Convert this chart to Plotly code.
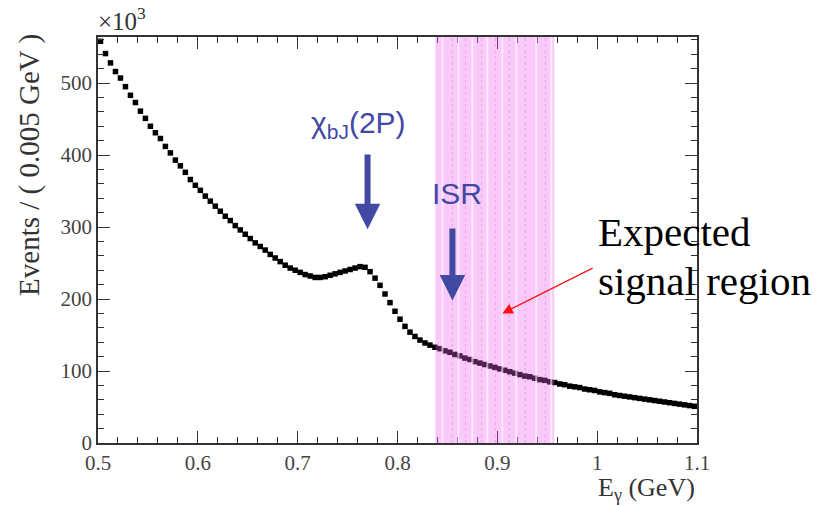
import numpy as np
import plotly.graph_objects as go

# Photon-energy spectrum, 0.005 GeV bins from 0.5 to 1.1 GeV (events in units of 10^3)
bin_lo = 0.5
bin_width = 0.005
events_k = [
    558, 541, 528, 516, 507, 495, 483, 473, 461, 451,
    440, 431, 423, 412, 403, 393, 385, 376, 366, 358,
    351, 343, 336, 329, 322, 315, 309, 302, 296, 290,
    284, 278, 273, 268, 262, 257, 252, 247, 243, 240,
    237, 234, 232, 230, 230, 231, 233, 235, 237, 239,
    241, 243, 245, 244, 238, 229, 219, 207, 195, 183,
    172, 162, 154, 148, 143, 139, 136, 133, 131, 128,
    126, 123, 121, 118, 116, 113, 111, 109, 107, 105,
    103, 101, 99, 97, 95, 93, 92, 90, 88, 87,
    85, 84, 82, 81, 79, 78, 77, 75, 74, 73,
    71, 70, 69, 67, 66, 65, 64, 63, 62, 61,
    60, 59, 58, 57, 56, 55, 54, 53, 52, 51,
]
e_gamma = bin_lo + bin_width * (np.arange(len(events_k)) + 0.5)

# Expected signal window and the stripe pattern inside it
signal_window = [0.838, 0.957]
light_stripes = [0.845, 0.861, 0.875, 0.890, 0.905, 0.919, 0.939, 0.954]
dark_stripes = [0.855, 0.868, 0.884, 0.898, 0.912, 0.928, 0.948]

# Labelled features: (label, x, arrow top, arrow tip)
chi_b = ("χ<sub>bJ</sub>(2P)", 0.770, 403, 297)
isr = ("ISR", 0.855, 300, 198)

x_ticks = [0.5, 0.6, 0.7, 0.8, 0.9, 1.0, 1.1]
x_tick_text = ["0.5", "0.6", "0.7", "0.8", "0.9", "1", "1.1"]
y_ticks = [0, 100, 200, 300, 400, 500]

serif = "Liberation Serif"
sans = "Liberation Sans"
blue = "#4249a3"

fig = go.Figure()

fig.add_trace(go.Scatter(
    x=e_gamma, y=events_k, mode="markers",
    marker=dict(symbol="square", size=5.5, color="black", line=dict(width=0)),
    showlegend=False, hoverinfo="x+y",
))

# Pink signal band drawn above the data, semi-transparent
fig.add_shape(type="rect", xref="x", yref="paper",
              x0=signal_window[0], x1=signal_window[1], y0=0, y1=1,
              fillcolor="#ec5aec", opacity=0.33, line=dict(width=0), layer="above")
for xs in light_stripes:
    fig.add_shape(type="line", xref="x", yref="paper", x0=xs, x1=xs, y0=0, y1=1,
                  line=dict(color="white", width=2), opacity=0.6, layer="above")
for xs in dark_stripes:
    fig.add_shape(type="line", xref="x", yref="paper", x0=xs, x1=xs, y0=0, y1=1,
                  line=dict(color="#c040c0", width=1, dash="dot"), opacity=0.25, layer="above")

# Blue feature arrows with labels
for label, xa, ytop, ytip in (chi_b, isr):
    fig.add_annotation(x=xa, y=ytip, ax=xa, ay=ytop, xref="x", yref="y",
                       axref="x", ayref="y", text="", showarrow=True,
                       arrowhead=2, arrowsize=0.85, arrowwidth=6, arrowcolor=blue)
fig.add_annotation(x=chi_b[1] - 0.009, y=chi_b[2] + 40, xref="x", yref="y",
                   text=chi_b[0], showarrow=False,
                   font=dict(family=sans, size=30, color=blue))
fig.add_annotation(x=isr[1] + 0.005, y=isr[2] + 46, xref="x", yref="y",
                   text=isr[0], showarrow=False,
                   font=dict(family=sans, size=30, color=blue))

# Red pointer to the signal window
fig.add_annotation(x=0.905, y=180, ax=0.997, ay=244, xref="x", yref="y",
                   axref="x", ayref="y", text="", showarrow=True,
                   arrowhead=2, arrowsize=1.6, arrowwidth=1.3, arrowcolor="#ff1010")
fig.add_annotation(x=0.832, y=0.519, xref="paper", yref="paper", xanchor="left",
                   yanchor="middle", text="Expected", showarrow=False,
                   font=dict(family=serif, size=41, color="black"))
fig.add_annotation(x=0.832, y=0.40, xref="paper", yref="paper", xanchor="left",
                   yanchor="middle", text="signal region", showarrow=False,
                   font=dict(family=serif, size=41, color="black"))

# Axis titles and exponent
fig.add_annotation(x=-0.1135, y=0.685, xref="paper", yref="paper", textangle=-90,
                   xanchor="center", yanchor="middle",
                   text="Events / ( 0.005 GeV )", showarrow=False,
                   font=dict(family=serif, size=29, color="#333"))
fig.add_annotation(x=1.0, y=-0.07, xref="paper", yref="paper", xanchor="right",
                   yanchor="top", text="E<sub>γ</sub> (GeV)", showarrow=False,
                   font=dict(family=serif, size=26, color="#333"))
fig.add_annotation(x=-0.003, y=1.0, xref="paper", yref="paper", xanchor="left",
                   yanchor="bottom", text="×10<sup>3</sup>", showarrow=False,
                   font=dict(family=serif, size=25, color="#333"))

axis_common = dict(showgrid=False, zeroline=False, showline=True, linecolor="#333",
                   linewidth=1.5, mirror="ticks", ticks="inside", tickcolor="#333",
                   tickwidth=1.2, tickfont=dict(family=serif, size=21, color="#444"))

fig.update_xaxes(range=[0.5, 1.1], tickvals=x_ticks, ticktext=x_tick_text,
                 ticklen=12, minor=dict(ticks="inside", dtick=0.02, tick0=0.5,
                                        ticklen=6, tickcolor="#333"),
                 **axis_common)
fig.update_yaxes(range=[0, 564], tickvals=y_ticks, ticklen=12,
                 minor=dict(ticks="inside", dtick=20, ticklen=6, tickcolor="#333"),
                 **axis_common)

fig.update_layout(
    width=823, height=505,
    margin=dict(l=98, r=126, t=37, b=62),
    plot_bgcolor="white", paper_bgcolor="white",
)

fig.write_html("out.html")
